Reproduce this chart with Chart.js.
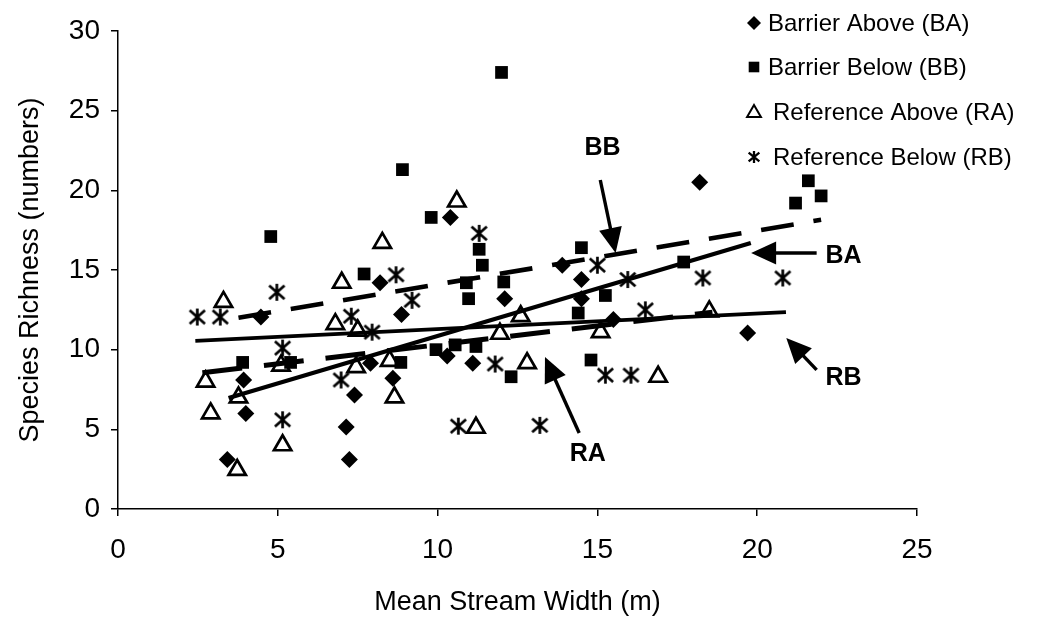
<!DOCTYPE html>
<html><head><meta charset="utf-8">
<script src="https://cdn.jsdelivr.net/npm/chart.js@4.4.1/dist/chart.umd.min.js"></script>
<style>html,body{margin:0;padding:0;background:#fff;}canvas{display:block;}</style>
</head><body>
<canvas id="c" width="1041" height="622"></canvas>
<script>
// ---- data ----
const seriesNames = ['Barrier Above (BA)', 'Barrier Below (BB)', 'Reference Above (RA)', 'Reference Below (RB)'];
const xTicks = [0, 5, 10, 15, 20, 25];
const yTicks = [0, 5, 10, 15, 20, 25, 30];

const baX = [3.42, 4.47, 3.93, 4.0, 7.4, 7.14, 7.24, 8.2, 8.87, 7.9, 8.6, 10.4, 12.1, 13.9, 14.5, 14.5, 11.1, 10.3, 15.5, 18.2, 19.7];
const baY = [3.1, 12.05, 8.1, 6.0, 7.15, 5.15, 3.1, 14.2, 12.2, 9.15, 8.2, 18.3, 13.2, 15.3, 14.4, 13.2, 9.15, 9.6, 11.9, 20.5, 11.05];

const bbX = [3.9, 5.4, 4.78, 7.7, 8.85, 8.9, 9.8, 11.3, 11.4, 12.0, 10.97, 12.07, 10.9, 14.5, 14.4, 15.25, 11.2, 12.3, 9.95, 10.55, 14.8, 17.7, 21.2, 21.6, 22.0];
const bbY = [9.2, 9.2, 17.1, 14.75, 9.2, 21.3, 18.3, 16.3, 15.3, 27.4, 13.2, 14.25, 14.2, 16.4, 12.3, 13.4, 10.2, 8.3, 10.0, 10.3, 9.35, 15.5, 19.2, 20.6, 19.65];

const raX = [3.3, 7.0, 6.8, 5.1, 2.74, 3.77, 2.9, 5.15, 3.73, 7.5, 7.45, 8.5, 8.65, 8.27, 10.6, 11.2, 12.6, 11.95, 12.8, 15.1, 16.9, 18.5];
const raY = [13.0, 14.2, 11.6, 9.0, 8.0, 7.0, 6.0, 4.0, 2.45, 11.2, 8.9, 9.3, 7.0, 16.7, 19.3, 5.1, 12.1, 11.0, 9.15, 11.1, 8.3, 12.4];

const rbX = [2.48, 3.2, 4.97, 7.3, 5.15, 5.15, 6.98, 8.7, 9.2, 7.95, 10.65, 13.2, 11.8, 11.3, 15.0, 15.95, 18.3, 20.8, 16.5, 15.25, 16.05];
const rbY = [12.05, 12.05, 13.6, 12.1, 10.1, 5.6, 8.1, 14.7, 13.1, 11.1, 5.2, 5.25, 9.1, 17.3, 15.3, 14.4, 14.5, 14.5, 12.5, 8.4, 8.4];

// trend line end points
const baTrendX = [3.46, 19.8], baTrendY = [6.97, 16.7];
const bbTrendX = [3.77, 22.0], bbTrendY = [12.0, 18.15];
const raTrendX = [2.64, 18.6], raTrendY = [8.55, 12.35];
const rbTrendX = [2.42, 20.9], rbTrendY = [10.55, 12.35];

// annotation labels (BB, BA, RB, RA) with arrows, in data units
const annText = ['BB', 'BA', 'RB', 'RA'];
const annLabelX = [15.16, 22.7, 22.7, 14.7];
const annLabelY = [22.66, 15.9, 8.2, 3.45];
const annFromX = [15.09, 21.86, 21.86, 14.43];
const annFromY = [20.65, 16.07, 8.73, 4.77];
const annToX = [15.57, 19.81, 20.91, 13.36];
const annToY = [16.07, 16.07, 10.73, 9.54];

// ---- helpers ----
const FONT = "'Liberation Sans', Arial, sans-serif";
Chart.defaults.font.family = FONT;
Chart.defaults.color = '#000';

function pts(xs, ys) { return xs.map((x, i) => ({x: x, y: ys[i]})); }

function makeStar(size, lw) {
  const cv = document.createElement('canvas');
  cv.width = size; cv.height = size;
  const c = cv.getContext('2d');
  c.strokeStyle = '#000'; c.lineWidth = lw; c.lineCap = 'butt';
  const m = lw / 2 + 0.5;
  c.beginPath();
  c.moveTo(size / 2, m * 0.6); c.lineTo(size / 2, size - m * 0.6);
  c.moveTo(m, m + 1); c.lineTo(size - m, size - m - 1);
  c.moveTo(size - m, m + 1); c.lineTo(m, size - m - 1);
  c.stroke();
  return cv;
}
const starBig = makeStar(19, 2.7);
const starSmall = makeStar(14, 2.3);

function trend(xs, ys, width, dash) {
  return {
    type: 'line', data: pts(xs, ys), borderColor: '#000', borderWidth: width,
    borderDash: dash, pointRadius: 0, showLine: true, fill: false, tension: 0, order: 5
  };
}

const overlay = {
  id: 'overlay',
  afterDraw(chart) {
    const ctx = chart.ctx;
    const xs = chart.scales.x, ys = chart.scales.y;
    ctx.save();
    // annotations
    ctx.fillStyle = '#000'; ctx.strokeStyle = '#000';
    ctx.font = 'bold 25px ' + FONT;
    ctx.textAlign = 'center'; ctx.textBaseline = 'middle';
    for (let i = 0; i < annText.length; i++) {
      ctx.fillText(annText[i], xs.getPixelForValue(annLabelX[i]), ys.getPixelForValue(annLabelY[i]));
      const x0 = xs.getPixelForValue(annFromX[i]), y0 = ys.getPixelForValue(annFromY[i]);
      const x1 = xs.getPixelForValue(annToX[i]), y1 = ys.getPixelForValue(annToY[i]);
      const a = Math.atan2(y1 - y0, x1 - x0);
      const hl = 25, hw = 11.5;
      const bx = x1 - Math.cos(a) * hl, by = y1 - Math.sin(a) * hl;
      ctx.lineWidth = 3.4;
      ctx.beginPath(); ctx.moveTo(x0, y0); ctx.lineTo(bx + Math.cos(a) * 2, by + Math.sin(a) * 2); ctx.stroke();
      ctx.beginPath();
      ctx.moveTo(x1, y1);
      ctx.lineTo(bx + Math.sin(a) * hw, by - Math.cos(a) * hw);
      ctx.lineTo(bx - Math.sin(a) * hw, by + Math.cos(a) * hw);
      ctx.closePath(); ctx.fill();
    }
    // legend
    ctx.font = '24px ' + FONT;
    ctx.textAlign = 'left'; ctx.textBaseline = 'middle';
    const rows = [23, 67, 112, 157];
    const textX = [768, 768, 773, 773];
    const mk = [
      {pointStyle: 'rectRot', radius: 7, borderWidth: 0, fill: true},
      {pointStyle: 'rect', radius: 7.5, borderWidth: 0, fill: true},
      {pointStyle: 'triangle', radius: 8, borderWidth: 2, fill: false},
      {pointStyle: starSmall, radius: 7, borderWidth: 0, fill: false}
    ];
    for (let i = 0; i < seriesNames.length; i++) {
      ctx.fillStyle = mk[i].fill ? '#000' : 'rgba(0,0,0,0)';
      ctx.strokeStyle = '#000';
      ctx.lineWidth = mk[i].borderWidth;
      Chart.helpers.drawPoint(ctx, {pointStyle: mk[i].pointStyle, radius: mk[i].radius, borderWidth: mk[i].borderWidth, rotation: 0}, 754, rows[i] + (i === 2 ? 1 : 0));
      ctx.fillStyle = '#000';
      ctx.fillText(seriesNames[i], textX[i], rows[i] + 1);
    }
    ctx.restore();
  }
};

new Chart(document.getElementById('c'), {
  type: 'scatter',
  data: {
    datasets: [
      {label: seriesNames[0], data: pts(baX, baY), pointStyle: 'rectRot', pointRadius: 8.5, backgroundColor: '#000', borderColor: '#000', borderWidth: 0, order: 1},
      {label: seriesNames[1], data: pts(bbX, bbY), pointStyle: 'rect', pointRadius: 9, backgroundColor: '#000', borderColor: '#000', borderWidth: 0, order: 1},
      {label: seriesNames[2], data: pts(raX, raY), pointStyle: 'triangle', pointRadius: 10, backgroundColor: 'rgba(0,0,0,0)', borderColor: '#000', borderWidth: 2.7, order: 1},
      {label: seriesNames[3], data: pts(rbX, rbY), pointStyle: starBig, pointRadius: 9, backgroundColor: '#000', borderColor: '#000', borderWidth: 0, order: 1},
      trend(baTrendX, baTrendY, 4.2, []),
      trend(bbTrendX, bbTrendY, 4.6, [33, 20]),
      trend(raTrendX, raTrendY, 5, [40, 22]),
      trend(rbTrendX, rbTrendY, 3.8, [])
    ]
  },
  options: {
    responsive: false,
    animation: false,
    devicePixelRatio: 1,
    layout: {padding: {top: 31, right: 124, left: 0, bottom: 0}},
    plugins: {legend: {display: false}, tooltip: {enabled: false}},
    scales: {
      x: {
        type: 'linear', min: 0, max: 25,
        afterBuildTicks: s => { s.ticks = xTicks.map(v => ({value: v})); },
        afterFit: s => { s.height = 113; },
        ticks: {color: '#000', font: {size: 28}, padding: 17},
        grid: {display: true, drawOnChartArea: false, drawTicks: true, tickLength: 7, color: '#000', lineWidth: 1.5},
        border: {display: true, color: '#000', width: 1.5},
        title: {display: true, text: 'Mean Stream Width (m)', color: '#000', font: {size: 27}, padding: {top: 0, bottom: 3}}
      },
      y: {
        type: 'linear', min: 0, max: 30,
        afterBuildTicks: s => { s.ticks = yTicks.map(v => ({value: v})); },
        afterFit: s => { s.width = 118; },
        ticks: {color: '#000', font: {size: 28}, padding: 11},
        grid: {display: true, drawOnChartArea: false, drawTicks: true, tickLength: 7, color: '#000', lineWidth: 1.5},
        border: {display: true, color: '#000', width: 1.5},
        title: {display: true, text: 'Species Richness (numbers)', color: '#000', font: {size: 27}, padding: {top: 14, bottom: 0}}
      }
    }
  },
  plugins: [overlay]
});
</script>
</body></html>
